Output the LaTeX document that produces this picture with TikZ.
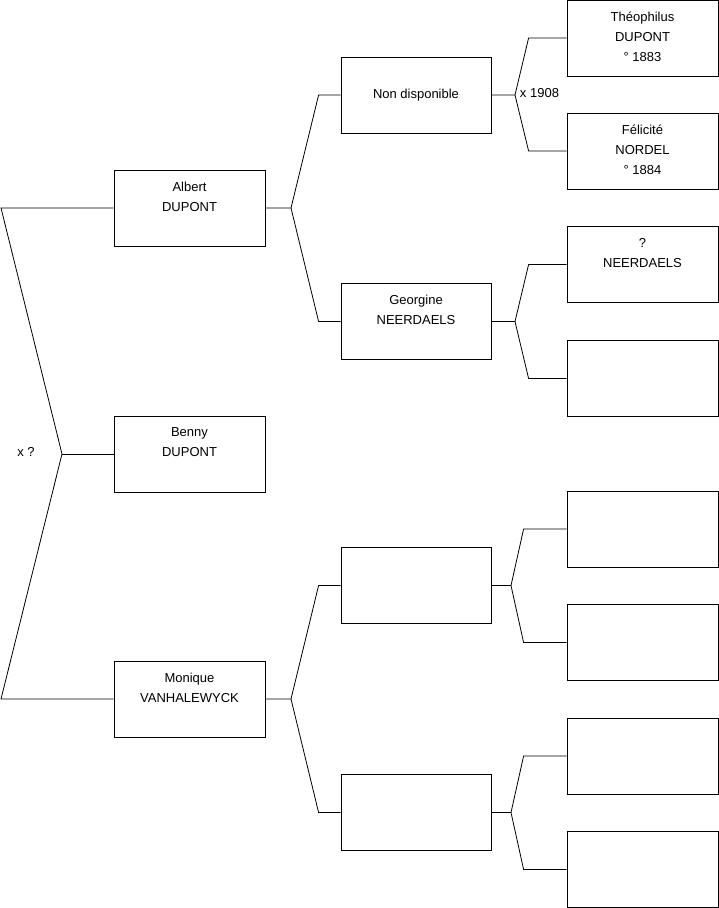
\documentclass[tikz,border=0pt]{standalone}
\usepackage{fontspec}
\setmainfont{Liberation Sans}
\usepackage{tikz}
\usetikzlibrary{positioning}

\begin{document}
\begin{tikzpicture}[
    x=1pt,
    y=-1pt,
    line width=0.8pt,
    font=\fontsize{13}{20}\selectfont,
    person/.style={draw, minimum width=151pt, minimum height=76pt, inner sep=0pt},
    who/.style={anchor=north, inner sep=0pt, align=center,
        execute at begin node={\rule{0pt}{12pt}}},
    lbl/.style={inner sep=1pt}
]
\useasboundingbox (0,0) rectangle (719,908);

% generation 1
\node[person] (albert) at (189.5,208) {};
\node[who] (albert-t) at ([yshift=-12pt]albert.north) {Albert\\DUPONT};
\node[person] (benny) at (189.5,454) {};
\node[who] (benny-t) at ([yshift=-12pt]benny.north) {Benny\\DUPONT};
\node[person] (monique) at (189.5,699) {};
\node[who] (monique-t) at ([yshift=-12pt]monique.north) {Monique\\VANHALEWYCK};

% generation 2
\node[person, minimum width=150pt] (nd) at (416,95) {Non disponible};
\node[person, minimum width=150pt] (georgine) at (416,321.5) {};
\node[who] (georgine-t) at ([yshift=-12pt]georgine.north) {Georgine\\NEERDAELS};
\node[person, minimum width=150pt] (m1) at (416,585.5) {};
\node[person, minimum width=150pt] (m2) at (416,812.5) {};

% generation 3
\node[person] (theo) at (642.5,38) {};
\node[who] (theo-t) at ([yshift=-12pt]theo.north) {Théophilus\\DUPONT\\° 1883};
\node[person] (felicite) at (642.5,151) {};
\node[who] (felicite-t) at ([yshift=-12pt]felicite.north) {Félicité\\NORDEL\\° 1884};
\node[person] (gpa) at (642.5,264.5) {};
\node[who] (gpa-t) at ([yshift=-12pt]gpa.north) {?\\NEERDAELS};
\node[person] (gma) at (642.5,378.5) {};
\node[person] (m1a) at (642.5,529) {};
\node[person] (m1b) at (642.5,642.5) {};
\node[person] (m2a) at (642.5,756) {};
\node[person] (m2b) at (642.5,869.5) {};

% forks
\coordinate (top) at (1,208);
\coordinate (bot) at (1,699);
\coordinate (j0) at (62,454);
\draw (albert.west) -- (top) -- (j0) -- (bot) -- (monique.west);
\draw (j0) -- (benny.west);
\node[lbl] (x0) at (26,452) {x ?};

\coordinate (ja) at (291,208);
\draw (albert.east) -- (ja) -- ([xshift=-22pt]nd.west) -- (nd.west);
\draw (ja) -- ([xshift=-22pt]georgine.west) -- (georgine.west);

\coordinate (jm) at (291,699);
\draw (monique.east) -- (jm) -- ([xshift=-22pt]m1.west) -- (m1.west);
\draw (jm) -- ([xshift=-22pt]m2.west) -- (m2.west);

\coordinate (jn) at (515,95);
\draw (nd.east) -- (jn) -- ([xshift=-38pt]theo.west) -- (theo.west);
\draw (jn) -- ([xshift=-38pt]felicite.west) -- (felicite.west);
\node[lbl] (x1) at (539.5,93) {x 1908};

\coordinate (jg) at (515,321.5);
\draw (georgine.east) -- (jg) -- ([xshift=-38pt]gpa.west) -- (gpa.west);
\draw (jg) -- ([xshift=-38pt]gma.west) -- (gma.west);

\coordinate (j1) at (511,585.5);
\draw (m1.east) -- (j1) -- ([xshift=-43pt]m1a.west) -- (m1a.west);
\draw (j1) -- ([xshift=-43pt]m1b.west) -- (m1b.west);

\coordinate (j2) at (511,812.5);
\draw (m2.east) -- (j2) -- ([xshift=-43pt]m2a.west) -- (m2a.west);
\draw (j2) -- ([xshift=-43pt]m2b.west) -- (m2b.west);
\end{tikzpicture}
\end{document}
